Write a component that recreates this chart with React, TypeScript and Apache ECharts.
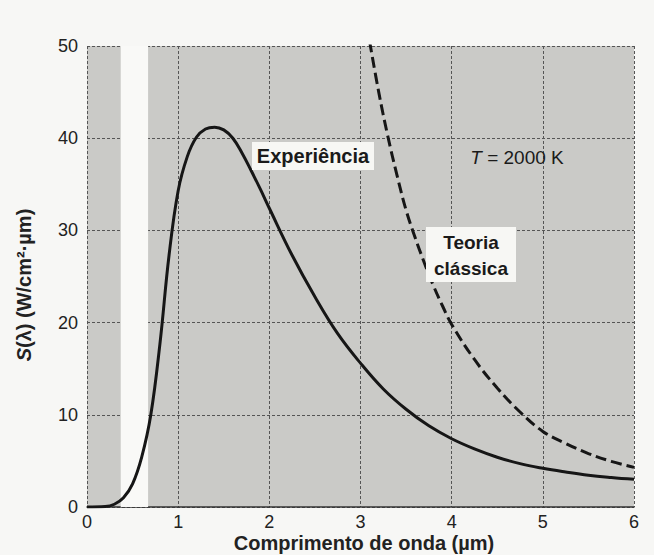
import React, { useEffect, useRef } from "react";
import * as echarts from "echarts";

// Axis ticks
const xTicks = [0, 1, 2, 3, 4, 5, 6];
const yTicks = [0, 10, 20, 30, 40, 50];

// Visible-light band (µm), left blank (white) on the chart
const visibleBand = [0.37, 0.67];

// "Experiência" curve (solid)
const expLambda = [0, 0.2, 0.3, 0.4, 0.5, 0.6, 0.7, 0.8, 0.9, 1.0, 1.1, 1.2, 1.3, 1.4, 1.5, 1.6, 1.7, 1.8, 1.9, 2.0, 2.25, 2.5, 2.75, 3.0, 3.25, 3.5, 3.75, 4.0, 4.25, 4.5, 4.75, 5.0, 5.25, 5.5, 5.75, 6.0];
const expS = [0, 0.05, 0.3, 1.0, 2.5, 5.4, 10.0, 17.7, 27.3, 34.3, 38.0, 40.1, 41.0, 41.2, 40.9, 40.0, 38.4, 36.5, 34.5, 32.4, 27.3, 22.8, 18.8, 15.6, 12.8, 10.6, 8.8, 7.4, 6.3, 5.4, 4.7, 4.2, 3.8, 3.45, 3.2, 3.0];

// "Teoria clássica" curve (dashed)
const clsLambda = [3.1, 3.2, 3.3, 3.4, 3.5, 3.6, 3.7, 3.8, 3.9, 4.0, 4.25, 4.5, 4.75, 5.0, 5.25, 5.5, 5.75, 6.0];
const clsS = [50.5, 45.0, 40.2, 36.0, 32.2, 29.2, 26.5, 24.0, 21.8, 19.8, 16.0, 12.9, 10.3, 8.2, 6.9, 5.8, 4.95, 4.3];

const FONT = "'Liberation Sans', Arial, Helvetica, sans-serif";

export default function App() {
  const ref = useRef<HTMLDivElement>(null);

  useEffect(() => {
    document.body.style.margin = "0";
    document.body.style.background = "#f7f7f5";
    const chart = echarts.init(ref.current!, undefined, { renderer: "svg" });
    chart.setOption({
      animation: false,
      backgroundColor: "#f7f7f5",
      textStyle: { fontFamily: FONT },
      grid: {
        left: 87,
        right: 20,
        top: 46,
        bottom: 48,
        show: true,
        backgroundColor: "#cacac7",
        borderWidth: 0,
      },
      xAxis: {
        type: "value",
        min: xTicks[0],
        max: xTicks[xTicks.length - 1],
        interval: 1,
        axisLine: { show: true, lineStyle: { color: "#333", width: 1.5 } },
        axisTick: { show: false },
        axisLabel: { color: "#222", fontSize: 18, margin: 6, fontFamily: FONT },
        splitLine: { show: true, lineStyle: { color: "#555", width: 1, type: [3, 2] } },
      },
      yAxis: {
        type: "value",
        min: yTicks[0],
        max: yTicks[yTicks.length - 1],
        interval: 10,
        axisLine: { show: false },
        axisTick: { show: false },
        axisLabel: { color: "#222", fontSize: 18, margin: 9, fontFamily: FONT },
        splitLine: { show: true, lineStyle: { color: "#555", width: 1, type: [3, 2] } },
      },
      series: [
        {
          type: "line",
          data: [],
          z: 1,
          silent: true,
          markArea: {
            silent: true,
            itemStyle: { color: "#f9f9f7" },
            data: [[{ xAxis: visibleBand[0] }, { xAxis: visibleBand[1] }]],
          },
        },
        {
          name: "Experiência",
          type: "line",
          z: 3,
          smooth: 0.4,
          showSymbol: false,
          lineStyle: { color: "#161616", width: 3 },
          data: expLambda.map((x, i) => [x, expS[i]]),
        },
        {
          name: "Teoria clássica",
          type: "line",
          z: 3,
          smooth: 0.4,
          showSymbol: false,
          lineStyle: { color: "#161616", width: 3, type: [11, 5] },
          data: clsLambda.map((x, i) => [x, clsS[i]]),
        },
      ],
      graphic: [
        {
          type: "text",
          x: 24,
          y: 285,
          rotation: Math.PI / 2,
          style: {
            text: "{i|S}(λ) (W/cm²·µm)",
            fill: "#222",
            font: `bold 20px ${FONT}`,
            align: "center",
            verticalAlign: "middle",
            rich: { i: { fontStyle: "italic", fontWeight: "bold", fontSize: 20, fontFamily: FONT, fill: "#222" } },
          },
        },
        {
          type: "text",
          x: 364,
          y: 543,
          style: {
            text: "Comprimento de onda (µm)",
            fill: "#222",
            font: `bold 20px ${FONT}`,
            align: "center",
            verticalAlign: "middle",
          },
        },
        {
          type: "rect",
          z: 10,
          shape: { x: 252, y: 142, width: 122, height: 28 },
          style: { fill: "#f7f7f4" },
        },
        {
          type: "text",
          z: 11,
          x: 313,
          y: 156,
          style: {
            text: "Experiência",
            fill: "#1a1a1a",
            font: `bold 20px ${FONT}`,
            align: "center",
            verticalAlign: "middle",
          },
        },
        {
          type: "text",
          z: 11,
          x: 517,
          y: 157,
          style: {
            text: "{i|T} = 2000 K",
            fill: "#1a1a1a",
            font: `19px ${FONT}`,
            align: "center",
            verticalAlign: "middle",
            rich: { i: { fontStyle: "italic", fontSize: 19, fontFamily: FONT, fill: "#1a1a1a" } },
          },
        },
        {
          type: "rect",
          z: 10,
          shape: { x: 426, y: 227, width: 90, height: 55 },
          style: { fill: "#f7f7f4" },
        },
        {
          type: "text",
          z: 11,
          x: 471,
          y: 255,
          style: {
            text: "Teoria\nclássica",
            fill: "#1a1a1a",
            font: `bold 19px ${FONT}`,
            lineHeight: 26,
            align: "center",
            verticalAlign: "middle",
          },
        },
      ],
    });
    return () => chart.dispose();
  }, []);

  return <div ref={ref} style={{ width: 654, height: 555 }} />;
}
